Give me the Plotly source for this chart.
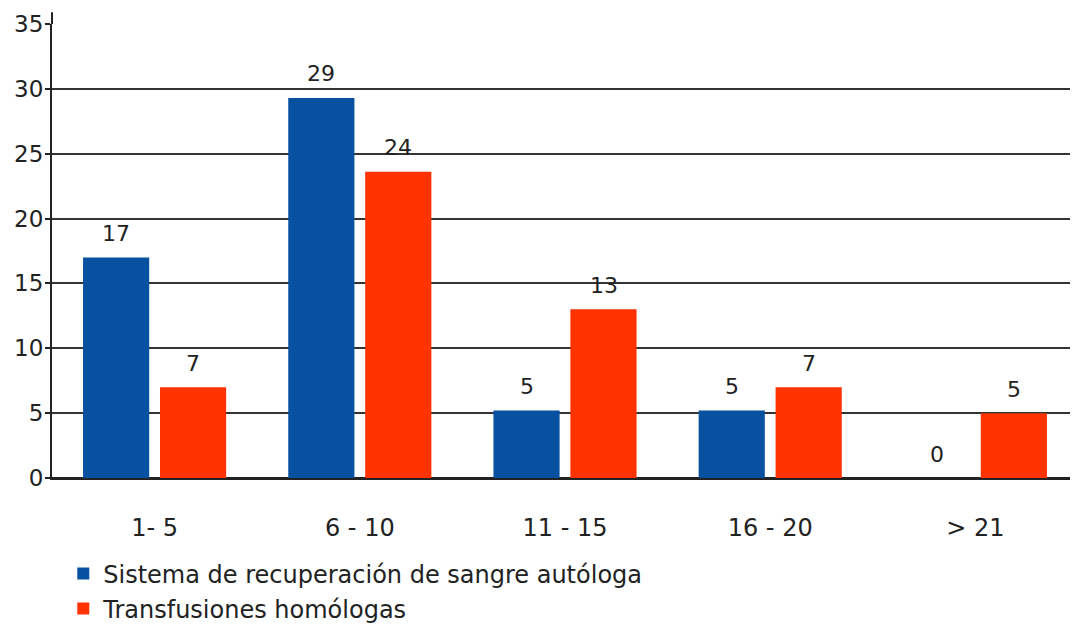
import plotly.graph_objects as go

categories = ["1- 5", "6 - 10", "11 - 15", "16 - 20", "> 21"]
autologa = [17, 29.3, 5.2, 5.2, 0]
homologas = [7, 23.6, 13, 7, 5]
series_names = ["Sistema de recuperación de sangre autóloga", "Transfusiones homólogas"]
colors = ["#0751a0", "#ff3300"]
y_ticks = [0, 5, 10, 15, 20, 25, 30, 35]

FONT = "DejaVu Sans"
TXT = "#222"

fig = go.Figure()
fig.add_trace(go.Bar(x=categories, y=autologa, name=series_names[0],
                     marker=dict(color=colors[0], line=dict(width=0)), legend="legend"))
fig.add_trace(go.Bar(x=categories, y=homologas, name=series_names[1],
                     marker=dict(color=colors[1], line=dict(width=0)), legend="legend2"))

annotations = []
for vals, shift in ((autologa, -38.5), (homologas, 38.5)):
    for c, v in zip(categories, vals):
        annotations.append(dict(x=c, y=v, xref="x", yref="y", text=f"{round(v)}",
                                showarrow=False, xshift=shift, yshift=24, yanchor="middle",
                                font=dict(family=FONT, size=22, color=TXT)))

# page body has an 8px margin, so the figure is drawn 8px smaller and offset
fig.update_layout(
    width=1070, height=618,
    margin=dict(l=44, r=0, t=16, b=148, autoexpand=False),
    paper_bgcolor="white", plot_bgcolor="white",
    barmode="group", bargap=0.25, bargroupgap=0.14,
    font=dict(family=FONT, size=22, color=TXT),
    showlegend=True,
    legend=dict(x=0.011, y=-0.2115, xanchor="left", yanchor="middle",
                font=dict(family=FONT, size=24, color=TXT), itemwidth=30,
                bgcolor="rgba(0,0,0,0)"),
    legend2=dict(x=0.011, y=-0.2885, xanchor="left", yanchor="middle",
                 font=dict(family=FONT, size=24, color=TXT), itemwidth=30,
                 bgcolor="rgba(0,0,0,0)"),
    annotations=annotations,
    shapes=[dict(type="line", xref="paper", yref="paper", x0=0, x1=0, y0=1, y1=1.026,
                 line=dict(color=TXT, width=2))],
)
fig.update_xaxes(range=[-0.5, 4.5], showgrid=False, showline=True, linecolor=TXT,
                 linewidth=2, ticks="", ticklabelstandoff=27, automargin=False,
                 tickfont=dict(family=FONT, size=24, color=TXT), fixedrange=True)
fig.update_yaxes(range=[0, 35], tickvals=y_ticks, showgrid=True, gridcolor="#333",
                 gridwidth=2, showline=True, linecolor=TXT, linewidth=2,
                 ticks="outside", ticklen=5, tickcolor=TXT, tickwidth=2,
                 ticklabelstandoff=-3,
                 zeroline=True, zerolinecolor=TXT, zerolinewidth=2, automargin=False,
                 tickfont=dict(family=FONT, size=23, color=TXT), fixedrange=True)

fig.write_html("out.html")
